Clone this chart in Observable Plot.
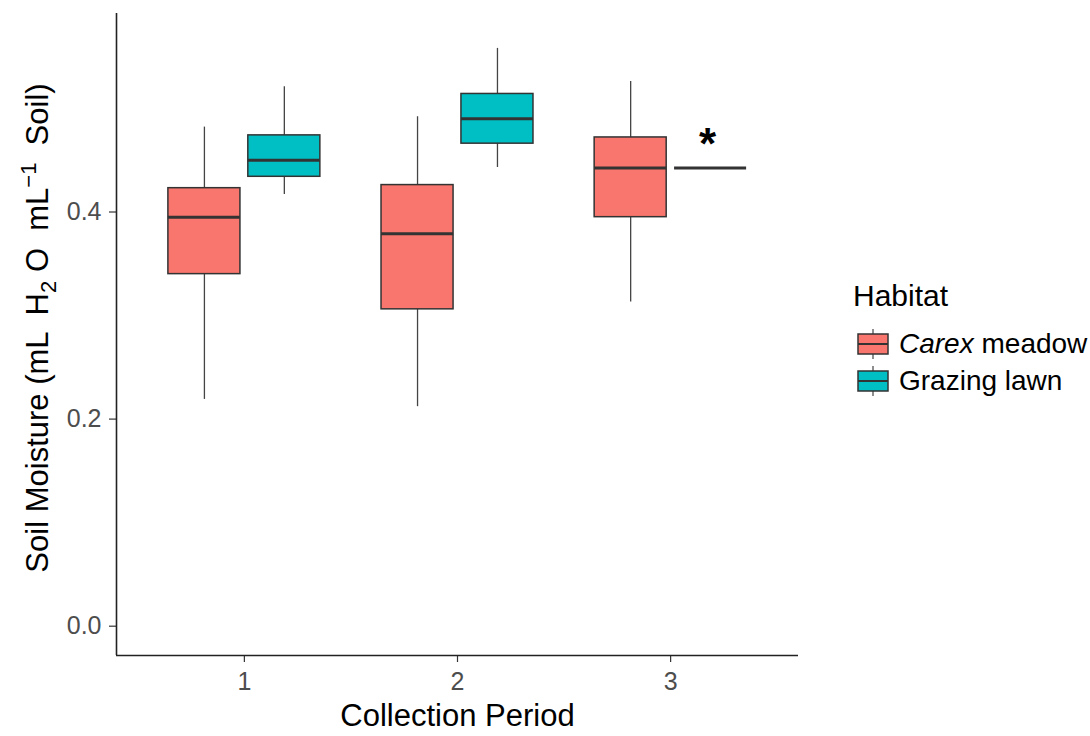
<!DOCTYPE html>
<html>
<head>
<meta charset="utf-8">
<script src="https://cdn.jsdelivr.net/npm/d3@7"></script>
<script src="https://cdn.jsdelivr.net/npm/@observablehq/plot@0.6"></script>
<style>
  html, body { margin: 0; padding: 0; background: #fff; }
  body { width: 1090px; height: 736px; position: relative; overflow: hidden; font-family: "Liberation Sans", Arial, sans-serif; }
  #chart { position: absolute; left: 0; top: 0; }
  #legend { position: absolute; left: 853px; top: 276px; color: #000; }
  #legend .title { font-size: 30px; line-height: 40px; margin-bottom: 10px; }
  #legend .item { display: flex; align-items: center; height: 36.7px; font-size: 28px; white-space: nowrap; }
  #legend .item svg { margin-right: 10px; margin-left: 4px; }
</style>
</head>
<body>
<div id="chart"></div>
<div id="legend"></div>
<script>
// ---- data ----
const periods = [1, 2, 3];
const habitats = ["Carex meadow", "Grazing lawn"];
const habitatColors = ["#F8766D", "#00BFC4"];

const carexLow    = [0.219, 0.212, 0.313];
const carexQ1     = [0.340, 0.306, 0.395];
const carexMedian = [0.395, 0.379, 0.4425];
const carexQ3     = [0.423, 0.426, 0.472];
const carexHigh   = [0.482, 0.492, 0.526];

const lawnLow    = [0.417, 0.443, 0.4425];
const lawnQ1     = [0.434, 0.466, 0.4425];
const lawnMedian = [0.450, 0.490, 0.4425];
const lawnQ3     = [0.474, 0.514, 0.4425];
const lawnHigh   = [0.521, 0.558, 0.4425];

const yTicks = [0.0, 0.2, 0.4];
const xTicks = [1, 2, 3];
const annotations = [{period: 3, habitat: "Grazing lawn", y: 0.4425, label: "*"}];

// ---- build table ----
const rows = [];
periods.forEach((p, i) => {
  rows.push({period: p, habitat: habitats[0], low: carexLow[i], q1: carexQ1[i], med: carexMedian[i], q3: carexQ3[i], high: carexHigh[i]});
  rows.push({period: p, habitat: habitats[1], low: lawnLow[i], q1: lawnQ1[i], med: lawnMedian[i], q3: lawnQ3[i], high: lawnHigh[i]});
});

const dodge = 0.1875, half = 0.169;
const cx = d => d.period + (d.habitat === habitats[0] ? -dodge : dodge);

const plot = Plot.plot({
  width: 1090,
  height: 736,
  marginLeft: 116,
  marginRight: 292,
  marginTop: 13,
  marginBottom: 81,
  style: {fontFamily: '"Liberation Sans", Arial, sans-serif', background: "#fff"},
  x: {type: "linear", domain: [0.4, 3.6]},
  y: {domain: [-0.0283, 0.5917]},
  color: {domain: habitats, range: habitatColors},
  marks: [
    Plot.axisY({ticks: yTicks, tickFormat: ".1f", tickSize: 7, tickPadding: 8, fontSize: 25, fill: "#4d4d4d", stroke: "#333", strokeWidth: 1.2, label: null}),
    Plot.axisX({ticks: xTicks, tickFormat: "d", tickSize: 7, tickPadding: 10, fontSize: 25, fill: "#4d4d4d", stroke: "#333", strokeWidth: 1.2, label: null}),
    Plot.ruleX([0.4], {stroke: "#222", strokeWidth: 1.6}),
    Plot.ruleY([-0.0283], {stroke: "#222", strokeWidth: 1.6}),
    // whiskers
    Plot.ruleX(rows, {x: cx, y1: "q3", y2: "high", stroke: "#444", strokeWidth: 1.3}),
    Plot.ruleX(rows, {x: cx, y1: "low", y2: "q1", stroke: "#444", strokeWidth: 1.3}),
    // boxes
    Plot.rect(rows, {x1: d => cx(d) - half, x2: d => cx(d) + half, y1: "q1", y2: "q3", fill: "habitat", stroke: "#333", strokeWidth: 1.5}),
    // medians
    Plot.ruleY(rows, {y: "med", x1: d => cx(d) - half, x2: d => cx(d) + half, stroke: "#333", strokeWidth: 3}),
    // significance star
    Plot.text(annotations, {x: cx, y: "y", text: "label", fontSize: 44, fontWeight: "bold", fill: "#000", dy: -23, dx: -3}),
    // x axis title
    Plot.text(["Collection Period"], {frameAnchor: "bottom", text: d => d, fontSize: 31, fill: "#000", dy: 70})
  ]
});
document.getElementById("chart").appendChild(plot);

// y axis title with sub/superscripts
const svg = d3.select(plot);
const yl = svg.append("text")
  .attr("transform", "translate(48,328) rotate(-90)")
  .attr("text-anchor", "middle")
  .attr("font-size", 31)
  .attr("fill", "#000")
  .style("white-space", "pre");
yl.append("tspan").text("Soil Moisture (mL  H");
yl.append("tspan").attr("font-size", 22).attr("dy", 8).text("2");
yl.append("tspan").attr("dy", -8).text(" O  mL");
yl.append("tspan").attr("font-size", 22).attr("dy", -12).text("\u22121");
yl.append("tspan").attr("dy", 12).text("  Soil)");

// legend
const legend = d3.select("#legend");
legend.append("div").attr("class", "title").text("Habitat");
habitats.forEach((h, i) => {
  const item = legend.append("div").attr("class", "item");
  const s = item.append("svg").attr("width", 32).attr("height", 32);
  s.append("line").attr("x1", 16).attr("x2", 16).attr("y1", 1).attr("y2", 31).attr("stroke", "#444").attr("stroke-width", 1.2);
  s.append("rect").attr("x", 1).attr("y", 6).attr("width", 30).attr("height", 20).attr("fill", habitatColors[i]).attr("stroke", "#333").attr("stroke-width", 1.5);
  s.append("line").attr("x1", 1).attr("x2", 31).attr("y1", 16).attr("y2", 16).attr("stroke", "#333").attr("stroke-width", 2);
  const t = item.append("span");
  if (i === 0) {
    t.append("i").text("Carex");
    t.append("span").text(" meadow");
  } else {
    t.text(h);
  }
});
</script>
</body>
</html>
